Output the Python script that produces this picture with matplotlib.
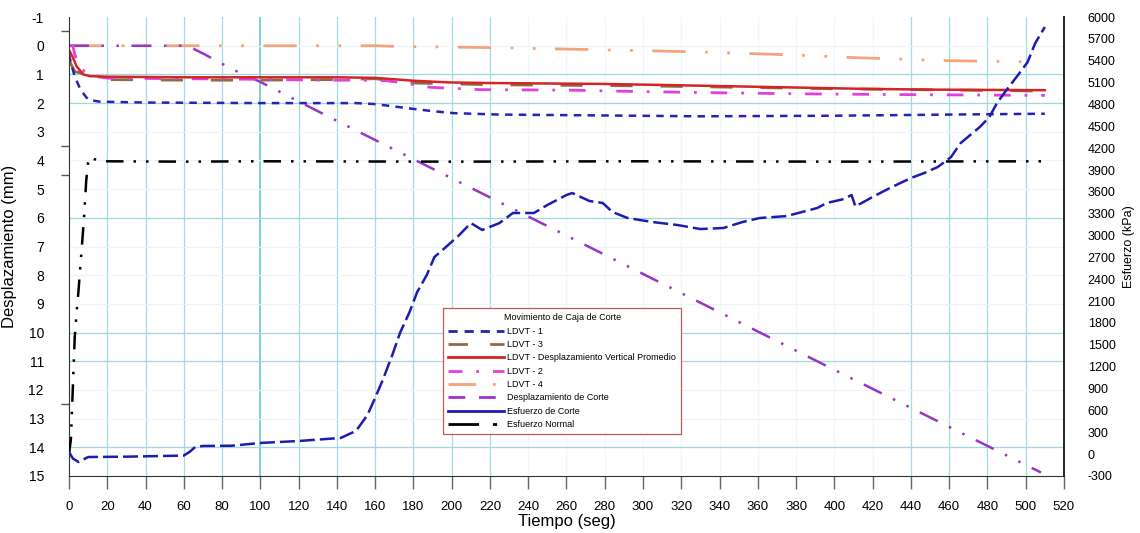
import matplotlib
matplotlib.use("Agg")
import matplotlib.pyplot as plt
from matplotlib.lines import Line2D

plt.rcParams["font.family"] = ["Liberation Sans", "DejaVu Sans"]
plt.rcParams["axes.unicode_minus"] = False

# -------------------------------
# Data
# -------------------------------

# left axis: displacement (mm)
t_ldvt1 = [0, 1, 3, 6, 10, 16, 40, 100, 150, 159, 168, 176, 190, 201, 225, 278, 330, 400, 460, 510]
d_ldvt1 = [0.3, 0.6, 1.07, 1.53, 1.88, 1.95, 1.98, 2.0, 2.0, 2.03, 2.1, 2.17, 2.28, 2.35, 2.4, 2.43, 2.46, 2.44, 2.4, 2.37]

t_ldvt3 = [0, 3, 6, 12, 20, 60, 100, 140, 160, 180, 220, 300, 400, 510]
d_ldvt3 = [0.5, 0.9, 0.95, 1.1, 1.18, 1.2, 1.2, 1.18, 1.15, 1.3, 1.36, 1.4, 1.5, 1.58]

t_prom = [0, 2, 4, 7.5, 11, 20, 60, 100, 140, 160, 180, 199, 220, 256, 278, 320, 413, 450, 510]
d_prom = [0.15, 0.4, 0.72, 1.0, 1.06, 1.08, 1.1, 1.1, 1.1, 1.12, 1.22, 1.28, 1.3, 1.32, 1.33, 1.38, 1.5, 1.53, 1.55]

t_ldvt2 = [0, 2, 3, 6, 12, 20, 60, 100, 130, 150, 166, 178, 189, 215, 263, 300, 339, 387, 450, 510]
d_ldvt2 = [0.0, 0.0, 0.3, 0.8, 1.05, 1.13, 1.15, 1.17, 1.2, 1.2, 1.22, 1.33, 1.45, 1.53, 1.55, 1.6, 1.64, 1.68, 1.71, 1.73]

t_ldvt4 = [0, 60, 131, 160, 169, 215, 255, 300, 337, 378, 413, 459, 508]
d_ldvt4 = [0, 0, 0, 0, 0.02, 0.06, 0.11, 0.17, 0.23, 0.32, 0.42, 0.52, 0.57]

t_corte_d = [0, 62, 70, 86, 100, 135, 173, 272, 400, 508]
d_corte = [0, 0, 0.27, 0.84, 1.26, 2.45, 3.72, 7.02, 11.3, 14.88]

# right axis: stress (kPa)
t_ecorte = [0, 2, 5, 10, 30, 60, 63, 66, 70, 85, 100, 120, 142, 150, 156, 160, 164, 169, 173,
            178, 182, 187, 191, 197, 204, 210, 216, 225, 232, 243, 250, 260, 263, 272, 279, 284,
            292, 305, 318, 330, 342, 352, 361, 375, 391, 396, 405, 409, 411, 420, 429, 440, 447,
            454, 461, 466, 471, 476, 481, 485, 490, 496, 501, 505, 510]
s_ecorte = [30, -60, -108, -40, -35, -20, 30, 98, 112, 115, 153, 180, 222, 318, 537, 771, 1018, 1361, 1663,
            1951, 2226, 2459, 2706, 2843, 3008, 3172, 3077, 3172, 3310, 3310, 3420, 3557, 3584, 3475, 3447, 3324,
            3241, 3186, 3145, 3090, 3104, 3186, 3241, 3268, 3378, 3447, 3502, 3557, 3400, 3530, 3653, 3790, 3859,
            3941, 4079, 4270, 4380, 4490, 4627, 4820, 5000, 5204, 5382, 5643, 5863]

t_enormal = [0, 1, 2, 3, 4, 5, 6, 7, 8, 9, 10, 11, 13, 20, 60, 100, 200, 300, 400, 510]
s_enormal = [0, 200, 900, 1600, 1950, 2250, 2600, 2940, 3300, 3750, 4000, 4080, 4050, 4020, 4015, 4020, 4015, 4020, 4015, 4020]

x_ticks = list(range(0, 521, 20))
y_left_ticks = list(range(-1, 16))
y_right_ticks = list(range(-300, 6001, 300))

# -------------------------------
# Styles
# -------------------------------
c_ldvt1 = "#2424b0"
c_ldvt3 = "#8c6c48"
c_prom = "#d42424"
c_ldvt2 = "#e040e0"
c_ldvt4 = "#f4a47a"
c_corte_d = "#9a34c4"
c_ecorte = "#1c1cb0"
c_enormal = "#000000"

ls_ldvt1 = (0, (3, 2.5))
ls_ldvt3 = (0, (8, 10))
ls_ldvt2 = (0, (6, 5, 1, 5))
ls_ldvt4 = (0, (12, 7, 1, 7, 1, 7))
ls_corte_d = (0, (8, 5, 1, 5, 1, 5))
ls_ecorte = (0, (6, 2))
ls_enormal = (0, (7, 4, 1, 4, 1, 4))

fig = plt.figure(figsize=(11.4, 5.33), dpi=100)
ax = fig.add_axes([0.0605, 0.107, 0.8728, 0.861])
ax2 = ax.twinx()

# gridlines (cyan, some stronger than others)
strong_v = [20, 40, 60, 80, 120, 140, 160, 180, 200, 220, 440, 460, 480, 500]
for xv in x_ticks[1:-1]:
    if xv == 100:
        ax.axvline(xv, color="#5cc2d2", lw=1.1, zorder=0)
    elif xv in strong_v:
        ax.axvline(xv, color="#a6dbe6", lw=0.9, zorder=0)
    else:
        ax.axvline(xv, color="#eef7fa", lw=0.8, zorder=0)
strong_h = [1, 2, 6, 10, 11, 14]
for yv in range(0, 15):
    if yv in strong_h:
        ax.axhline(yv, color="#9fd6e2", lw=0.9, zorder=0)
    else:
        ax.axhline(yv, color="#eaf5f8", lw=0.8, zorder=0)

# left axis series
ax.plot(t_ldvt4, d_ldvt4, color=c_ldvt4, lw=2, linestyle=ls_ldvt4)
ax.plot(t_corte_d, d_corte, color=c_corte_d, lw=1.8, linestyle=ls_corte_d)
ax.plot(t_ldvt3, d_ldvt3, color=c_ldvt3, lw=2, linestyle=ls_ldvt3)
ax.plot(t_ldvt2, d_ldvt2, color=c_ldvt2, lw=2, linestyle=ls_ldvt2)
ax.plot(t_prom, d_prom, color=c_prom, lw=1.8)
ax.plot(t_ldvt1, d_ldvt1, color=c_ldvt1, lw=1.8, linestyle=ls_ldvt1)

# right axis series
ax2.plot(t_enormal, s_enormal, color=c_enormal, lw=1.8, linestyle=ls_enormal)
ax2.plot(t_ecorte, s_ecorte, color=c_ecorte, lw=1.8, linestyle=ls_ecorte)

ax.set_xlim(0, 520)
ax.set_ylim(15, -1)
ax2.set_ylim(-300, 6000)

ax.set_xticks(x_ticks)
ax.set_yticks(y_left_ticks)
ax.set_yticks([-0.5, 2, 3.5, 4.5, 10, 11, 12.5, 14], minor=True)
ax2.set_yticks(y_right_ticks)

ax.tick_params(axis="x", direction="out", length=9, width=1, color="#666666", pad=9, labelsize=9.5)
ax.tick_params(axis="y", which="major", length=0, pad=18, labelsize=10)
ax.tick_params(axis="y", which="minor", length=6, width=1, color="#555555")
ax2.tick_params(axis="y", length=0, pad=17, labelsize=9)

for a in (ax, ax2):
    a.spines["top"].set_visible(False)
ax2.spines["left"].set_visible(False)
ax2.spines["bottom"].set_visible(False)
ax.spines["right"].set_visible(False)
ax.spines["left"].set_color("#333333")
ax.spines["bottom"].set_color("#333333")
ax2.spines["right"].set_color("#222222")
ax2.spines["right"].set_linewidth(1.4)

ax.set_xlabel("Tiempo (seg)", fontsize=12, labelpad=1)
ax.set_ylabel("Desplazamiento (mm)", fontsize=12, labelpad=8)
ax2.set_ylabel("Esfuerzo (kPa)", fontsize=9, labelpad=5)

# legend
handles = [
    Line2D([], [], color=c_ldvt1, lw=2, linestyle=(0, (3.3, 2.5))),
    Line2D([], [], color=c_ldvt3, lw=2, linestyle=(0, (7, 8))),
    Line2D([], [], color=c_prom, lw=2),
    Line2D([], [], color=c_ldvt2, lw=2, linestyle=(0, (5, 5, 1, 5))),
    Line2D([], [], color=c_ldvt4, lw=2, linestyle=(0, (10, 6, 1, 6))),
    Line2D([], [], color=c_corte_d, lw=2, linestyle=(0, (6, 5))),
    Line2D([], [], color=c_ecorte, lw=2),
    Line2D([], [], color=c_enormal, lw=2, linestyle=(0, (11, 5, 1.5, 5))),
]
labels = ["LDVT - 1", "LDVT - 3", "LDVT - Desplazamiento Vertical Promedio", "LDVT - 2",
          "LDVT - 4", "Desplazamiento de Corte", "Esfuerzo de Corte", "Esfuerzo Normal"]
leg = fig.legend(handles, labels, title="Movimiento de Caja de Corte",
                 loc="upper left", bbox_to_anchor=(0.3886, 0.4222),
                 fontsize=6.5, title_fontsize=6.5, handlelength=6.2,
                 labelspacing=0.48, fancybox=False, framealpha=1,
                 borderpad=0.6, handletextpad=0.3, borderaxespad=0)
leg.get_frame().set_edgecolor("#b85a5a")
leg.get_frame().set_linewidth(0.9)

plt.savefig("out.png", dpi=100)
